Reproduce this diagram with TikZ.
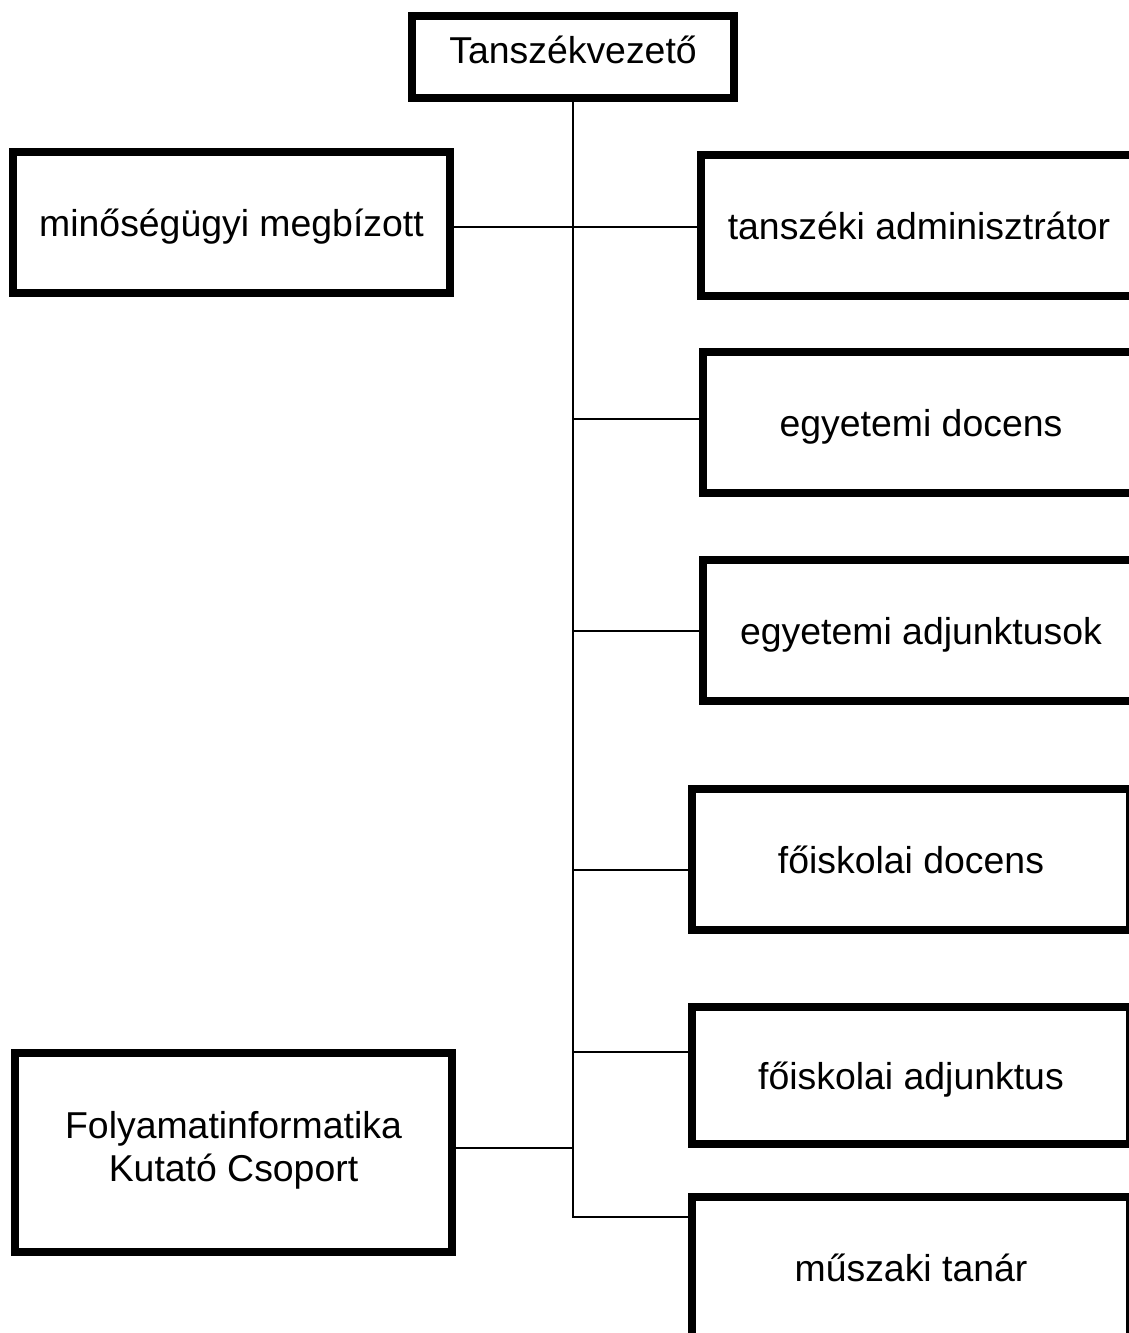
\documentclass[tikz,border=0pt]{standalone}
\usepackage{fontspec}
\setmainfont{Liberation Sans}
\usetikzlibrary{calc}
\begin{document}
\begin{tikzpicture}[x=0.5pt,y=-0.5pt,
  box/.style={draw=black, line width=4pt, fill=white, rectangle, inner sep=0pt,
    minimum height=70.5pt, font=\fontsize{18.7}{21.5}\selectfont,
    text height=14pt, text depth=0.5pt},
  conn/.style={draw=black, line width=1pt}]
\useasboundingbox (0,0) rectangle (1129,1333);
\clip (0,0) rectangle (1129,1333);
% boxes
\node[box, minimum width=161pt, minimum height=41pt, text height=8pt, text depth=2pt] (top) at (573,57) {Tanszékvezető};
\node[box, minimum width=218.5pt] (minoseg) at (231.5,222.5) {minőségügyi megbízott};
\node[box, minimum width=218pt] (tansz) at (919,225.5) {tanszéki adminisztrátor};
\node[box, minimum width=218pt] (edoc) at (921,422.5) {egyetemi docens};
\node[box, minimum width=218pt] (eadj) at (921,630.5) {egyetemi adjunktusok};
\node[box, minimum width=219pt] (fdoc) at (911,859.5) {főiskolai docens};
\node[box, minimum width=219pt, minimum height=68.5pt] (fadj) at (911,1075.5) {főiskolai adjunktus};
\node[box, minimum width=219pt] (musz) at (911,1267.5) {műszaki tanár};
\node[box, minimum width=218.5pt, minimum height=99.5pt, align=center, text height=34pt, text depth=5pt] (folyam) at (233.5,1152.5) {Folyamatinformatika\\Kutató Csoport};
% junction points on the trunk
\coordinate (j0) at (573,227);
\coordinate (j1) at (573,419);
\coordinate (j2) at (573,631);
\coordinate (j3) at (573,870);
\coordinate (j4) at (573,1052);
\coordinate (j5) at (573,1148);
\coordinate (tend) at (573,1217);
% connectors
\draw[conn] (top.south) -- (tend) -- (tend -| musz.west);
\draw[conn] (j0 -| minoseg.east) -- (j0 -| tansz.west);
\draw[conn] (j1) -- (j1 -| edoc.west);
\draw[conn] (j2) -- (j2 -| eadj.west);
\draw[conn] (j3) -- (j3 -| fdoc.west);
\draw[conn] (j4) -- ($(j4 -| fadj.west)+(7,0)$);
\draw[conn] (j5 -| folyam.east) -- (j5);
\end{tikzpicture}
\end{document}
